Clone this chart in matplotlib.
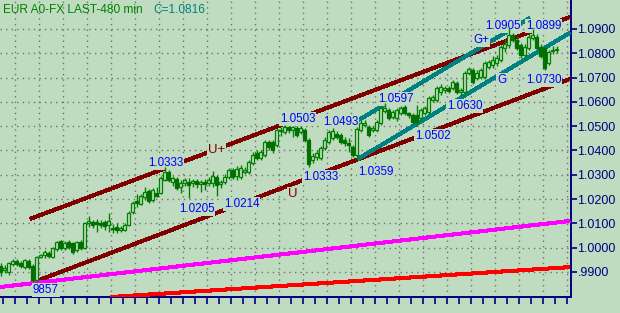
import matplotlib
matplotlib.use("Agg")
import matplotlib.pyplot as plt
import numpy as np

# EUR A0-FX, 480 min bars
opens = [
    0.9924, 0.9908, 0.9900, 0.9933, 0.9945, 0.9937, 0.9920, 0.9945, 0.9924, 0.9867,
    0.9962, 0.9970, 0.9979, 0.9962, 0.9995, 1.0028, 0.9999, 1.0024, 1.0020, 0.9991,
    1.0024, 0.9999, 1.0102, 1.0106, 1.0106, 1.0102, 1.0106, 1.0093, 1.0081, 1.0085,
    1.0073, 1.0073, 1.0093, 1.0147, 1.0192, 1.0180, 1.0208, 1.0233, 1.0196, 1.0225,
    1.0225, 1.0279, 1.0312, 1.0271, 1.0283, 1.0250, 1.0267, 1.0271, 1.0267, 1.0275,
    1.0262, 1.0271, 1.0267, 1.0267, 1.0291, 1.0262, 1.0271, 1.0291, 1.0320, 1.0295,
    1.0291, 1.0312, 1.0312, 1.0349, 1.0390, 1.0369, 1.0381, 1.0435, 1.0435, 1.0422,
    1.0480, 1.0476, 1.0496, 1.0484, 1.0492, 1.0476, 1.0484, 1.0443, 1.0361, 1.0373,
    1.0369, 1.0410, 1.0435, 1.0451, 1.0468, 1.0463, 1.0443, 1.0431, 1.0414, 1.0381,
    1.0484, 1.0504, 1.0496, 1.0484, 1.0484, 1.0513, 1.0563, 1.0567, 1.0538, 1.0534,
    1.0555, 1.0579, 1.0555, 1.0546, 1.0546, 1.0534, 1.0555, 1.0559, 1.0608, 1.0608,
    1.0641, 1.0649, 1.0657, 1.0657, 1.0678, 1.0641, 1.0641, 1.0719, 1.0731, 1.0698,
    1.0702, 1.0702, 1.0743, 1.0751, 1.0760, 1.0772, 1.0822, 1.0834, 1.0875, 1.0855,
    1.0834, 1.0793, 1.0822, 1.0863, 1.0867, 1.0826, 1.0822, 1.0760, 1.0809, 1.0814]
highs = [
    0.9937, 0.9928, 0.9941, 0.9954, 0.9954, 0.9945, 0.9954, 0.9954, 0.9933, 0.9966,
    0.9974, 0.9991, 0.9987, 1.0003, 1.0028, 1.0032, 1.0028, 1.0032, 1.0024, 1.0028,
    1.0032, 1.0106, 1.0130, 1.0114, 1.0118, 1.0114, 1.0114, 1.0143, 1.0098, 1.0102,
    1.0089, 1.0102, 1.0151, 1.0192, 1.0221, 1.0221, 1.0250, 1.0242, 1.0246, 1.0250,
    1.0295, 1.0333, 1.0320, 1.0295, 1.0291, 1.0279, 1.0287, 1.0287, 1.0283, 1.0283,
    1.0279, 1.0283, 1.0291, 1.0316, 1.0299, 1.0279, 1.0304, 1.0328, 1.0328, 1.0337,
    1.0341, 1.0333, 1.0361, 1.0394, 1.0402, 1.0402, 1.0443, 1.0443, 1.0443, 1.0492,
    1.0496, 1.0503, 1.0500, 1.0500, 1.0500, 1.0500, 1.0492, 1.0451, 1.0390, 1.0402,
    1.0418, 1.0455, 1.0484, 1.0493, 1.0480, 1.0472, 1.0455, 1.0451, 1.0422, 1.0496,
    1.0525, 1.0525, 1.0504, 1.0500, 1.0525, 1.0583, 1.0597, 1.0575, 1.0567, 1.0575,
    1.0583, 1.0587, 1.0559, 1.0555, 1.0587, 1.0575, 1.0583, 1.0624, 1.0628, 1.0665,
    1.0674, 1.0665, 1.0665, 1.0690, 1.0686, 1.0657, 1.0727, 1.0743, 1.0739, 1.0731,
    1.0739, 1.0768, 1.0772, 1.0789, 1.0793, 1.0834, 1.0859, 1.0905, 1.0883, 1.0871,
    1.0842, 1.0838, 1.0883, 1.0899, 1.0879, 1.0838, 1.0830, 1.0814, 1.0830, 1.0830]
lows = [
    0.9883, 0.9896, 0.9887, 0.9924, 0.9924, 0.9916, 0.9912, 0.9912, 0.9857, 0.9859,
    0.9958, 0.9958, 0.9958, 0.9958, 0.9987, 0.9991, 0.9991, 0.9995, 0.9974, 0.9983,
    0.9991, 0.9995, 1.0085, 1.0081, 1.0065, 1.0081, 1.0073, 1.0065, 1.0061, 1.0061,
    1.0065, 1.0069, 1.0089, 1.0139, 1.0167, 1.0175, 1.0196, 1.0184, 1.0188, 1.0208,
    1.0221, 1.0275, 1.0271, 1.0254, 1.0237, 1.0225, 1.0254, 1.0205, 1.0250, 1.0246,
    1.0229, 1.0237, 1.0254, 1.0250, 1.0214, 1.0246, 1.0262, 1.0283, 1.0283, 1.0279,
    1.0283, 1.0304, 1.0304, 1.0341, 1.0361, 1.0361, 1.0373, 1.0402, 1.0390, 1.0414,
    1.0459, 1.0468, 1.0472, 1.0455, 1.0455, 1.0468, 1.0435, 1.0333, 1.0349, 1.0361,
    1.0361, 1.0402, 1.0427, 1.0443, 1.0447, 1.0427, 1.0418, 1.0394, 1.0373, 1.0359,
    1.0476, 1.0496, 1.0455, 1.0476, 1.0476, 1.0504, 1.0555, 1.0525, 1.0530, 1.0521,
    1.0546, 1.0546, 1.0534, 1.0509, 1.0502, 1.0525, 1.0546, 1.0551, 1.0600, 1.0600,
    1.0628, 1.0637, 1.0637, 1.0649, 1.0633, 1.0630, 1.0633, 1.0710, 1.0674, 1.0690,
    1.0694, 1.0694, 1.0735, 1.0739, 1.0747, 1.0764, 1.0805, 1.0822, 1.0847, 1.0814,
    1.0781, 1.0781, 1.0814, 1.0855, 1.0814, 1.0781, 1.0730, 1.0751, 1.0797, 1.0801]
closes = [
    0.9900, 0.9916, 0.9937, 0.9945, 0.9933, 0.9924, 0.9949, 0.9920, 0.9867, 0.9962,
    0.9970, 0.9983, 0.9966, 0.9999, 1.0024, 0.9999, 1.0020, 1.0003, 0.9983, 1.0024,
    0.9999, 1.0102, 1.0110, 1.0093, 1.0098, 1.0093, 1.0089, 1.0110, 1.0077, 1.0073,
    1.0081, 1.0093, 1.0143, 1.0184, 1.0184, 1.0212, 1.0229, 1.0192, 1.0237, 1.0212,
    1.0287, 1.0312, 1.0279, 1.0287, 1.0246, 1.0267, 1.0279, 1.0258, 1.0275, 1.0262,
    1.0271, 1.0262, 1.0279, 1.0295, 1.0258, 1.0271, 1.0291, 1.0320, 1.0291, 1.0324,
    1.0328, 1.0320, 1.0353, 1.0381, 1.0369, 1.0394, 1.0435, 1.0414, 1.0402, 1.0484,
    1.0484, 1.0496, 1.0484, 1.0496, 1.0463, 1.0492, 1.0443, 1.0345, 1.0377, 1.0390,
    1.0410, 1.0443, 1.0476, 1.0480, 1.0455, 1.0435, 1.0431, 1.0422, 1.0381, 1.0488,
    1.0513, 1.0513, 1.0463, 1.0492, 1.0517, 1.0575, 1.0575, 1.0534, 1.0559, 1.0567,
    1.0575, 1.0555, 1.0546, 1.0517, 1.0517, 1.0567, 1.0575, 1.0616, 1.0620, 1.0657,
    1.0661, 1.0657, 1.0645, 1.0682, 1.0641, 1.0649, 1.0719, 1.0735, 1.0682, 1.0719,
    1.0731, 1.0760, 1.0764, 1.0772, 1.0781, 1.0826, 1.0838, 1.0875, 1.0855, 1.0822,
    1.0793, 1.0826, 1.0867, 1.0875, 1.0822, 1.0789, 1.0739, 1.0805, 1.0814, 1.0816]

# trend lines: (bar index start, bar index end), (price start, price end)
chan_up_x, chan_up_y = [7.25, 142.25], [1.0118, 1.0949]
chan_lo_x, chan_lo_y = [8.0, 142.25], [0.9857, 1.0694]
teal_up_x, teal_up_y = [89.0, 132.25], [1.0521, 1.0945]
teal_lo_x, teal_lo_y = [89.25, 142.25], [1.0365, 1.0884]
mag_x, mag_y = [-0.25, 142.25], [0.9838, 1.0110]
red_x, red_y = [27.5, 142.25], [0.9797, 0.9920]

# price labels (text, bar index, price)
price_labels = [
    ("9857", 8.0, 0.9826), ("1.0333", 36.75, 1.0349), ("1.0205", 44.5, 1.0159),
    ("1.0214", 55.75, 1.0180), ("1.0503", 69.75, 1.0530), ("1.0333", 75.5, 1.0291),
    ("1.0493", 80.5, 1.0517), ("1.0359", 89.25, 1.0312), ("1.0597", 94.25, 1.0612),
    ("1.0502", 103.5, 1.0459), ("1.0630", 111.5, 1.0583), ("1.0905", 121.0, 1.0912),
    ("1.0899", 131.25, 1.0912), ("1.0730", 131.25, 1.0690),
    ("G+", 118.0, 1.0855), ("G", 124.0, 1.0690)]
wave_labels = [("U+", 51.75, 1.0402), ("U", 71.75, 1.0221)]

yticks = [0.99, 1.00, 1.01, 1.02, 1.03, 1.04, 1.05, 1.06, 1.07, 1.08, 1.09]

bg = "#c0dcc0"
navy = "#000080"
plt.rcParams["font.family"] = ["Liberation Sans", "DejaVu Sans"]

fig = plt.figure(figsize=(6.2, 3.13), dpi=100, facecolor=bg)
ax = fig.add_axes([0, 16 / 313, 570.5 / 620, 297 / 313], facecolor=bg)

o = np.array(opens); h = np.array(highs); l = np.array(lows); c = np.array(closes)
x = np.arange(len(o))
up = c >= o
ax.vlines(x, l, h, color="#008000", lw=1, zorder=5)
bot = np.minimum(o, c)
hgt = np.maximum(np.abs(c - o), 0.00025)
ax.bar(x[up], hgt[up], bottom=bot[up], width=0.75, facecolor=bg,
       edgecolor="#008000", lw=0.9, zorder=6)
ax.bar(x[~up], hgt[~up], bottom=bot[~up], width=0.75, facecolor="#007000",
       edgecolor="#007000", lw=0.9, zorder=6)

for lx, ly, col in [(chan_up_x, chan_up_y, "#800000"), (chan_lo_x, chan_lo_y, "#800000"),
                    (teal_up_x, teal_up_y, "#008080"), (teal_lo_x, teal_lo_y, "#008080"),
                    (mag_x, mag_y, "#ff00ff"), (red_x, red_y, "#ff0000")]:
    ax.plot(lx, ly, color=col, lw=2.2, zorder=3, antialiased=False,
            solid_capstyle="butt")

box = dict(facecolor=bg, edgecolor="none", pad=0.6)
for txt, xi, yi in price_labels:
    ax.text(xi, yi, txt, color="#0000ff", fontsize=8.4, ha="left", va="center",
            bbox=box, zorder=4)
for txt, xi, yi in wave_labels:
    ax.text(xi, yi, txt, color="#800000", fontsize=9.5, ha="left", va="center",
            bbox=box, zorder=4)

ax.set_xlim(-0.25, 142.4)
ax.set_ylim(0.9797, 1.1019)

ax.yaxis.tick_right()
ax.set_yticks(yticks)
ax.set_yticklabels([("%.4f" % v).lstrip("0") for v in yticks])
ax.tick_params(axis="y", colors=navy, labelcolor=navy, length=4, width=1.2,
               pad=1, labelsize=9)
major_x = np.arange(141.4, -1, -6.0)
minor_x = np.arange(138.4, -1, -6.0)
ax.set_xticks(major_x)
ax.set_xticks(minor_x, minor=True)
ax.tick_params(axis="x", which="both", colors=navy, length=5, width=1.2,
               labelbottom=False)

ax.grid(True, which="major", color="#707070", linestyle=(0, (1, 3)), lw=1.0)
ax.set_axisbelow(True)
for s in ["top", "left"]:
    ax.spines[s].set_visible(False)
for s in ["right", "bottom"]:
    ax.spines[s].set_color(navy)
    ax.spines[s].set_linewidth(1.4)

fig.text(3 / 620, 1 - 10 / 313, "EUR A0-FX LAST-480 min", color="#008000",
         fontsize=8.6, ha="left", va="center")
fig.text(153 / 620, 1 - 10 / 313, "C=1.0816", color="#008080",
         fontsize=8.6, ha="left", va="center")

fig.savefig("out.png", dpi=100, facecolor=bg)
